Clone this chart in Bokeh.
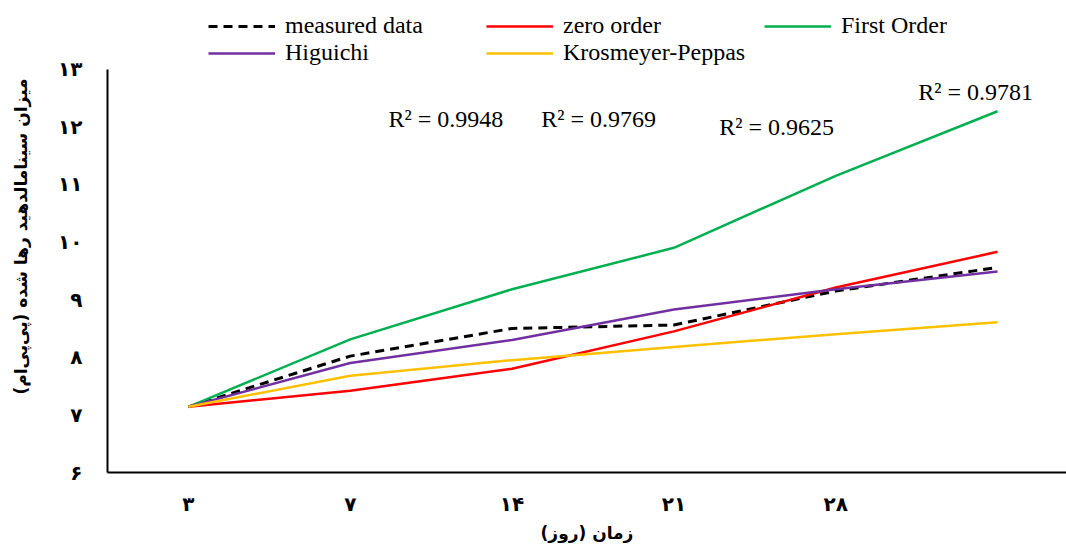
from bokeh.plotting import figure
from bokeh.models import Range1d, FixedTicker, Legend, LegendItem, Label, ColumnDataSource
from bokeh.embed import file_html
from bokeh.resources import INLINE

# ---- data ----
categories = ["۳", "۷", "۱۴", "۲۱", "۲۸", ""]
measured = [7.14, 8.02, 8.50, 8.56, 9.15, 9.56]
zero_order = [7.14, 7.42, 7.80, 8.45, 9.21, 9.83]
first_order = [7.14, 8.31, 9.18, 9.90, 11.15, 12.27]
higuchi = [7.14, 7.90, 8.30, 8.83, 9.18, 9.49]
krosmeyer = [7.14, 7.68, 7.95, 8.18, 8.40, 8.61]
y_ticks = [6, 7, 8, 9, 10, 11, 12, 13]
y_tick_labels = ["۶", "۷", "۸", "۹", "۱۰", "۱۱", "۱۲", "۱۳"]
r2_texts = ["R² = 0.9948", "R² = 0.9769", "R² = 0.9625", "R² = 0.9781"]
series_names = ["measured data", "zero order", "First Order", "Higuichi", "Krosmeyer-Peppas"]
x_title = "زمان (روز)"
y_title = "میزان سینامالدهید رها شده (پی‌پی‌ام)"

# ---- layout / style ----
r2_pos = [(1.236, 12.13), (2.18, 12.13), (3.28, 11.99), (4.51, 12.60)]
xs = list(range(len(categories)))
y_min, y_max = 6, 13
y_top = 6 + 474 / (405 / 7)   # frame extends up to the top edge; axis line stops at 13

p = figure(width=1066, height=545, output_backend="svg", toolbar_location=None,
           x_range=Range1d(-0.5, 5.426), y_range=Range1d(y_min, y_top),
           min_border_left=107, min_border_right=0, min_border_top=0, min_border_bottom=71)
p.background_fill_color = "white"
p.border_fill_color = "white"
p.outline_line_color = None
p.xgrid.visible = False
p.ygrid.visible = False

src = ColumnDataSource(dict(x=xs, measured=measured, zero=zero_order, first=first_order,
                            hig=higuchi, kp=krosmeyer))

r_meas = p.line("x", "measured", source=src, line_color="black", line_width=3, line_dash="9 6")
r_zero = p.line("x", "zero", source=src, line_color="#FF0000", line_width=2.5)
r_first = p.line("x", "first", source=src, line_color="#00B050", line_width=2.5)
r_hig = p.line("x", "hig", source=src, line_color="#7030A0", line_width=2.5)
r_kp = p.line("x", "kp", source=src, line_color="#FFC000", line_width=2.5)

renderers = [r_meas, r_zero, r_first, r_hig, r_kp]
legend = Legend(items=[LegendItem(label=n, renderers=[r]) for n, r in zip(series_names, renderers)],
                location=(101, 406), orientation="horizontal", ncols=3,
                glyph_width=67, glyph_height=22, label_standoff=10, spacing=0,
                label_width=201, padding=0, margin=0, border_line_color=None,
                background_fill_alpha=0,
                label_text_font="Liberation Serif", label_text_font_size="24px",
                label_text_color="black", label_height=22)
p.add_layout(legend, "center")

for t, (lx, ly) in zip(r2_texts, r2_pos):
    p.add_layout(Label(x=lx, y=ly, text=t, text_font="Liberation Serif", text_font_size="24px",
                       text_align="left", text_baseline="middle", text_color="black"))

# axes
xa = p.xaxis[0]
xa.ticker = FixedTicker(ticks=xs)
xa.major_label_overrides = {i: c for i, c in zip(xs, categories)}
xa.axis_label = x_title
ya = p.yaxis[0]
ya.ticker = FixedTicker(ticks=y_ticks)
ya.major_label_overrides = {t: l for t, l in zip(y_ticks, y_tick_labels)}
ya.bounds = (y_min, y_max)
ya.axis_label = y_title

for ax in (xa, ya):
    ax.axis_line_color = "black"
    ax.axis_line_width = 2
    ax.major_tick_in = 0
    ax.major_tick_out = 0
    ax.minor_tick_in = 0
    ax.minor_tick_out = 0
    ax.major_label_text_font = "DejaVu Sans"
    ax.major_label_text_font_style = "bold"
    ax.major_label_text_font_size = "20px"
    ax.major_label_text_color = "black"
    ax.axis_label_text_font = "DejaVu Sans"
    ax.axis_label_text_font_style = "bold"
    ax.axis_label_text_color = "black"
xa.axis_label_text_font_size = "17px"
ya.axis_label_text_font_size = "17px"
xa.major_label_standoff = 19
xa.axis_label_standoff = 4
ya.major_label_standoff = 25
ya.axis_label_standoff = 24

open("out.html", "w").write(file_html(p, INLINE))
